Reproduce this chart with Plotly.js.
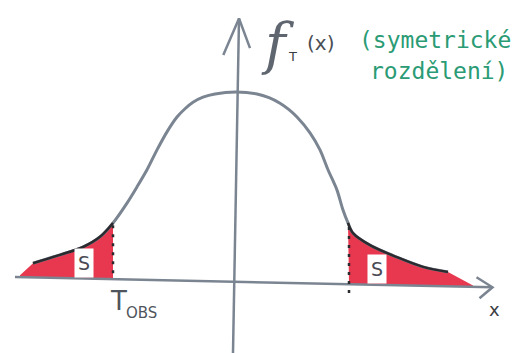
<!DOCTYPE html>
<html>
<head>
<meta charset="utf-8">
<script src="https://cdn.plot.ly/plotly-3.0.1.min.js"></script>
<style>
  html, body { margin: 0; padding: 0; background: #ffffff; }
  #chart { width: 529px; height: 353px; }
</style>
</head>
<body>
<div id="chart"></div>
<script>
// Density curve of the test statistic T, traced point by point
const curveX = [-4.04, -3.50, -3.04, -2.70, -2.44, -2.16, -1.96, -1.76, -1.56, -1.36,
                -1.16, -1.00, -0.84, -0.64, -0.40, 0.02, 0.44, 0.68, 0.90, 1.08,
                1.24, 1.50, 1.70, 1.86, 2.04, 2.16, 2.26, 2.36, 2.70, 3.24, 3.76, 4.26];
const curveY = [0.040, 0.058, 0.075, 0.097, 0.127, 0.170, 0.205, 0.242, 0.285, 0.324,
                0.356, 0.374, 0.388, 0.399, 0.406, 0.410, 0.406, 0.398, 0.386, 0.372,
                0.356, 0.322, 0.285, 0.242, 0.198, 0.155, 0.127, 0.105, 0.079, 0.053,
                0.032, 0.021];

// Observed value of the statistic and its mirror on the right
const tObs = -2.44;
const tObsMirror = 2.28;

// Outer ends of the shaded tails
const leftTailEnd = -4.30;
const rightTailEnd = 4.76;

// Axis lines (x axis drawn slightly slanted, as sketched)
const xAxisX = [-4.40, 5.15];
const xAxisY = [0.0102, -0.0121];
const yAxisX = [-0.04, 0.08];
const yAxisY = [-0.154, 0.569];

const axisGray = '#7b8592';
const ink = '#2b2b2f';
const tailRed = '#e8384f';

function baseY(x) {
  const t = (x - xAxisX[0]) / (xAxisX[1] - xAxisX[0]);
  return xAxisY[0] + t * (xAxisY[1] - xAxisY[0]);
}

// Split the curve into the two tails
const leftIdx = curveX.map((x, i) => i).filter(i => curveX[i] <= tObs);
const rightIdx = curveX.map((x, i) => i).filter(i => curveX[i] >= tObsMirror - 0.03);

const leftFillX = [leftTailEnd].concat(leftIdx.map(i => curveX[i]), [tObs, leftTailEnd]);
const leftFillY = [baseY(leftTailEnd) + 0.004].concat(leftIdx.map(i => curveY[i]),
                  [baseY(tObs), baseY(leftTailEnd)]);

const rightFillX = [tObsMirror].concat(rightIdx.map(i => curveX[i]),
                   [rightTailEnd, rightTailEnd, tObsMirror]);
const rightFillY = [baseY(tObsMirror)].concat(rightIdx.map(i => curveY[i]),
                   [baseY(rightTailEnd) + 0.003, baseY(rightTailEnd), baseY(tObsMirror)]);

const traces = [
  // shaded tails
  { x: leftFillX, y: leftFillY, mode: 'lines', fill: 'toself', fillcolor: tailRed,
    line: { width: 0, color: tailRed }, hoverinfo: 'skip' },
  { x: rightFillX, y: rightFillY, mode: 'lines', fill: 'toself', fillcolor: tailRed,
    line: { width: 0, color: tailRed }, hoverinfo: 'skip' },
  // x axis with arrow
  { x: xAxisX, y: xAxisY, mode: 'lines', line: { color: axisGray, width: 2.5 } },
  { x: [4.83, 5.15, 4.89], y: [0.0095, -0.0121, -0.0359], mode: 'lines',
    line: { color: axisGray, width: 2.5 } },
  // y axis with arrow
  { x: yAxisX, y: yAxisY, mode: 'lines', line: { color: axisGray, width: 2.5 } },
  { x: [-0.234, 0.08, 0.30], y: [0.490, 0.569, 0.505], mode: 'lines',
    line: { color: axisGray, width: 2.5 } },
  // density curve
  { x: curveX, y: curveY, mode: 'lines',
    line: { color: axisGray, width: 3, shape: 'spline', smoothing: 0.8 } },
  // darker pen over the tails
  { x: leftIdx.map(i => curveX[i]), y: leftIdx.map(i => curveY[i]), mode: 'lines',
    line: { color: ink, width: 2.5, shape: 'spline' } },
  { x: rightIdx.map(i => curveX[i]), y: rightIdx.map(i => curveY[i]), mode: 'lines',
    line: { color: ink, width: 2.5, shape: 'spline' } },
  // dotted verticals at the critical points
  { x: [tObs, tObs], y: [0.122, baseY(tObs)], mode: 'lines',
    line: { color: ink, width: 2.5, dash: '3px,6px' } },
  { x: [tObsMirror, tObsMirror], y: [0.118, -0.025], mode: 'lines',
    line: { color: ink, width: 2.5, dash: '3px,6px' } }
];

const W = 529, H = 353;
function px(x) { return x / W; }
function py(y) { return 1 - y / H; }

const annotations = [
  { text: 'f', x: px(278), y: py(44),
    font: { family: 'DejaVu Serif', size: 56, style: 'italic', color: '#5f6670' } },
  { text: 'T', x: px(292), y: py(57), font: { family: 'DejaVu Sans', size: 13, color: '#3a3d42' } },
  { text: '(x)', x: px(320), y: py(43), font: { family: 'DejaVu Sans', size: 20, color: '#4a4e55' } },
  { text: '(symetrické', x: px(435), y: py(40), font: { family: 'DejaVu Sans Mono', size: 23, color: '#2a9b74' } },
  { text: 'rozdělení)', x: px(439), y: py(71), font: { family: 'DejaVu Sans Mono', size: 23, color: '#2a9b74' } },
  { text: 'T', x: px(118), y: py(301), font: { family: 'DejaVu Sans', size: 26, color: '#4f555c' } },
  { text: 'OBS', x: px(141), y: py(313), font: { family: 'DejaVu Sans', size: 15, color: '#4f555c' } },
  { text: 'x', x: px(494), y: py(309), font: { family: 'DejaVu Sans', size: 18, color: '#3a3d42' } },
  { text: 'S', x: px(84), y: py(263), bgcolor: '#ffffff', borderpad: 3,
    font: { family: 'DejaVu Sans', size: 19, color: '#4a4a55' } },
  { text: 'S', x: px(377), y: py(269), bgcolor: '#ffffff', borderpad: 3,
    font: { family: 'DejaVu Sans', size: 19, color: '#4a4a55' } }
].map(a => Object.assign({ xref: 'paper', yref: 'paper', showarrow: false,
                           xanchor: 'center', yanchor: 'middle' }, a));

const layout = {
  width: W, height: H,
  margin: { l: 0, r: 0, t: 0, b: 0 },
  paper_bgcolor: '#ffffff', plot_bgcolor: '#ffffff',
  showlegend: false,
  xaxis: { range: [-4.7, 5.88], visible: false, fixedrange: true },
  yaxis: { range: [-0.1542, 0.6091], visible: false, fixedrange: true },
  annotations: annotations
};

Plotly.newPlot('chart', traces, layout, { staticPlot: true, displayModeBar: false });
</script>
</body>
</html>
